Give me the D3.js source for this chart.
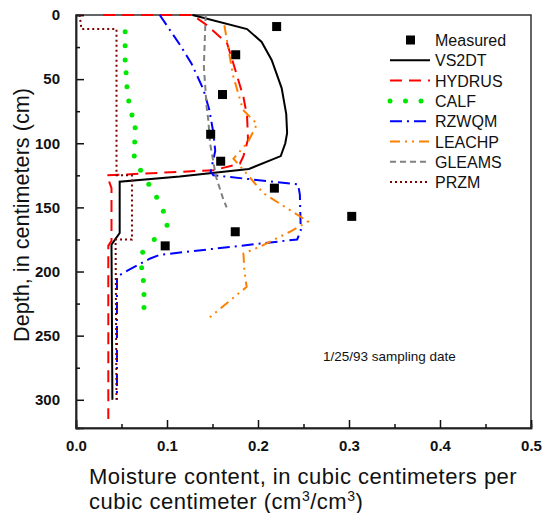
<!DOCTYPE html>
<html>
<head>
<meta charset="utf-8">
<script src="https://cdn.jsdelivr.net/npm/d3@7"></script>
<style>
  body { margin: 0; background: #fff; }
  svg text { font-family: Arial, "Liberation Sans", sans-serif; fill: #111; }
  .tick text { font-family: "Liberation Sans Narrow", "Arial Narrow", Arial, sans-serif; font-weight: bold; font-size: 15px; }
</style>
</head>
<body>
<script>
// values are [moisture content (cm3/cm3), depth (cm)]
var measured = [[0.2205, 9], [0.1755, 31], [0.161, 62], [0.148, 93], [0.159, 114],
  [0.218, 135], [0.303, 157], [0.175, 169], [0.098, 180]];
var vs2dt = [[0.128, 0], [0.188, 11], [0.204, 21], [0.215, 35], [0.226, 57], [0.231, 77],
  [0.232, 92], [0.230, 100], [0.225, 110], [0.190, 120], [0.114, 126], [0.048, 130],
  [0.048, 170], [0.039, 179], [0.040, 300]];
var hydrus = [[0.030, 0], [0.128, 0], [0.144, 8], [0.166, 22], [0.173, 38], [0.184, 64],
  [0.188, 79], [0.189, 97], [0.184, 110], [0.180, 116], [0.151, 121], [0.034, 125],
  [0.039, 135], [0.039, 176], [0.0355, 180], [0.0355, 315]];
var calf = [[0.054, 13], [0.054, 24], [0.054, 35], [0.055, 45], [0.056, 56], [0.058, 67],
  [0.0615, 78], [0.065, 88], [0.0645, 99], [0.064, 110], [0.071, 121], [0.080, 132],
  [0.0886, 142], [0.096, 153], [0.100, 164], [0.086, 175], [0.0733, 185], [0.0722, 197],
  [0.074, 207], [0.0747, 218], [0.0747, 228]];
var rzwqm = [[0.092, 0], [0.114, 23], [0.127, 38], [0.140, 58], [0.1465, 74], [0.151, 92],
  [0.153, 106], [0.148, 122], [0.151, 125], [0.244, 132], [0.246, 140], [0.247, 168],
  [0.243, 175], [0.092, 187], [0.081, 190], [0.0575, 199], [0.045, 204], [0.045, 300]];
var leachp = [[0.163, 8], [0.1725, 47], [0.1835, 74], [0.199, 85], [0.189, 99], [0.173, 112],
  [0.189, 125], [0.206, 139], [0.237, 153], [0.255, 161], [0.235, 169], [0.204, 180],
  [0.184, 186], [0.185, 199], [0.1875, 212], [0.167, 224], [0.1465, 236]];
var gleams = [[0.1425, 0], [0.1405, 40], [0.1436, 72], [0.1454, 82], [0.1473, 100],
  [0.1538, 126], [0.162, 144], [0.1656, 150]];
var przm = [[0.004, 0], [0.006, 11], [0.0445, 11], [0.0445, 125], [0.0615, 125],
  [0.0615, 175], [0.0435, 175], [0.0445, 300]];

var xTicks = [0, 0.1, 0.2, 0.3, 0.4, 0.5];
var yTicks = [0, 50, 100, 150, 200, 250, 300];

var series = [
  {name: "VS2DT", data: vs2dt, color: "#000", dash: null},
  {name: "HYDRUS", data: hydrus, color: "#ff0000", dash: "12,7"},
  {name: "CALF", data: calf, color: "#00e800", dots: true},
  {name: "RZWQM", data: rzwqm, color: "#0000ff", dash: "12,5,2,5"},
  {name: "LEACHP", data: leachp, color: "#ff8000", dash: "10,5,2,5,2,5"},
  {name: "GLEAMS", data: gleams, color: "#808080", dash: "6,4"},
  {name: "PRZM", data: przm, color: "#800000", dash: "2,3"}
];

var width = 543, height = 513;
var mLeft = 76, mRight = 531, mTop = 15, mBottom = 428;

var svg = d3.select("body").append("svg")
    .attr("width", width)
    .attr("height", height);

var x = d3.scaleLinear().domain([0, 0.5]).range([mLeft, mRight]);
var y = d3.scaleLinear().domain([0, 322]).range([mTop, mBottom]);

// frame
svg.append("rect")
    .attr("x", mLeft).attr("y", mTop)
    .attr("width", mRight - mLeft).attr("height", mBottom - mTop)
    .attr("fill", "none").attr("stroke", "#333").attr("stroke-width", 1.5);

// axes, ticks pointing inward
svg.append("g")
    .attr("transform", "translate(0," + mBottom + ")")
    .call(d3.axisBottom(x).tickValues(xTicks).tickSize(-8).tickPadding(12)
      .tickFormat(d3.format(".1f")));
svg.append("g")
    .attr("transform", "translate(0," + mBottom + ")")
    .call(d3.axisBottom(x).tickValues([0.05, 0.15, 0.25, 0.35, 0.45]).tickSize(-4).tickFormat(""));
svg.append("g")
    .attr("transform", "translate(" + mLeft + ",0)")
    .call(d3.axisLeft(y).tickValues(yTicks).tickSize(-8).tickPadding(16));
svg.append("g")
    .attr("transform", "translate(" + mLeft + ",0)")
    .call(d3.axisLeft(y).tickValues([25, 75, 125, 175, 225, 275]).tickSize(-4).tickFormat(""));
svg.selectAll(".domain").attr("stroke", "#222").attr("stroke-width", 1.5);
svg.selectAll(".tick line").attr("stroke", "#111").attr("stroke-width", 1.5);

var line = d3.line()
    .x(function(d) { return x(d[0]); })
    .y(function(d) { return y(d[1]); });

series.forEach(function(s) {
  if (s.dots) {
    svg.append("g").selectAll("circle")
        .data(s.data)
      .enter().append("circle")
        .attr("cx", function(d) { return x(d[0]); })
        .attr("cy", function(d) { return y(d[1]); })
        .attr("r", 2.5)
        .attr("fill", s.color);
  } else {
    svg.append("path")
        .datum(s.data)
        .attr("d", line)
        .attr("fill", "none")
        .attr("stroke", s.color)
        .attr("stroke-width", 2)
        .attr("stroke-dasharray", s.dash);
  }
});

svg.append("g").selectAll("rect")
    .data(measured)
  .enter().append("rect")
    .attr("x", function(d) { return x(d[0]) - 4.5; })
    .attr("y", function(d) { return y(d[1]) - 4.5; })
    .attr("width", 9).attr("height", 9)
    .attr("fill", "#000");

// legend
var legend = svg.append("g").attr("transform", "translate(390,40)");
var rowH = 20.3;
legend.append("rect").attr("x", 16).attr("y", -4.5).attr("width", 9).attr("height", 9).attr("fill", "#000");
legend.append("text").attr("x", 45).attr("y", 6).attr("font-size", 16).text("Measured");
series.forEach(function(s, i) {
  var ly = (i + 1) * rowH;
  if (s.dots) {
    legend.selectAll(".ld").data([0, 15.5, 31]).enter().append("circle")
        .attr("cx", function(d) { return d; }).attr("cy", ly)
        .attr("r", 2.5).attr("fill", s.color);
  } else {
    legend.append("line")
        .attr("x1", 0).attr("x2", 40).attr("y1", ly).attr("y2", ly)
        .attr("stroke", s.color).attr("stroke-width", 2)
        .attr("stroke-dasharray", s.dash);
  }
  legend.append("text").attr("x", 45).attr("y", ly + 6).attr("font-size", 16).text(s.name);
});

svg.append("text").attr("x", 323).attr("y", 361).attr("font-size", 13.5)
    .text("1/25/93 sampling date");

// axis titles
svg.append("text")
    .attr("transform", "translate(28.5,215) rotate(-90)")
    .attr("text-anchor", "middle")
    .attr("font-size", 22.5)
    .attr("textLength", 254)
    .attr("lengthAdjust", "spacingAndGlyphs")
    .text("Depth, in centimeters (cm)");
svg.append("text").attr("x", 89).attr("y", 484).attr("font-size", 22)
    .attr("letter-spacing", 0.5)
    .text("Moisture content, in cubic centimeters per");
var t2 = svg.append("text").attr("x", 89).attr("y", 509).attr("font-size", 22)
    .attr("letter-spacing", 0.5);
t2.append("tspan").text("cubic centimeter (cm");
t2.append("tspan").attr("dy", -8).attr("font-size", 14).text("3");
t2.append("tspan").attr("dy", 8).text("/cm");
t2.append("tspan").attr("dy", -8).attr("font-size", 14).text("3");
t2.append("tspan").attr("dy", 8).text(")");
</script>
</body>
</html>
